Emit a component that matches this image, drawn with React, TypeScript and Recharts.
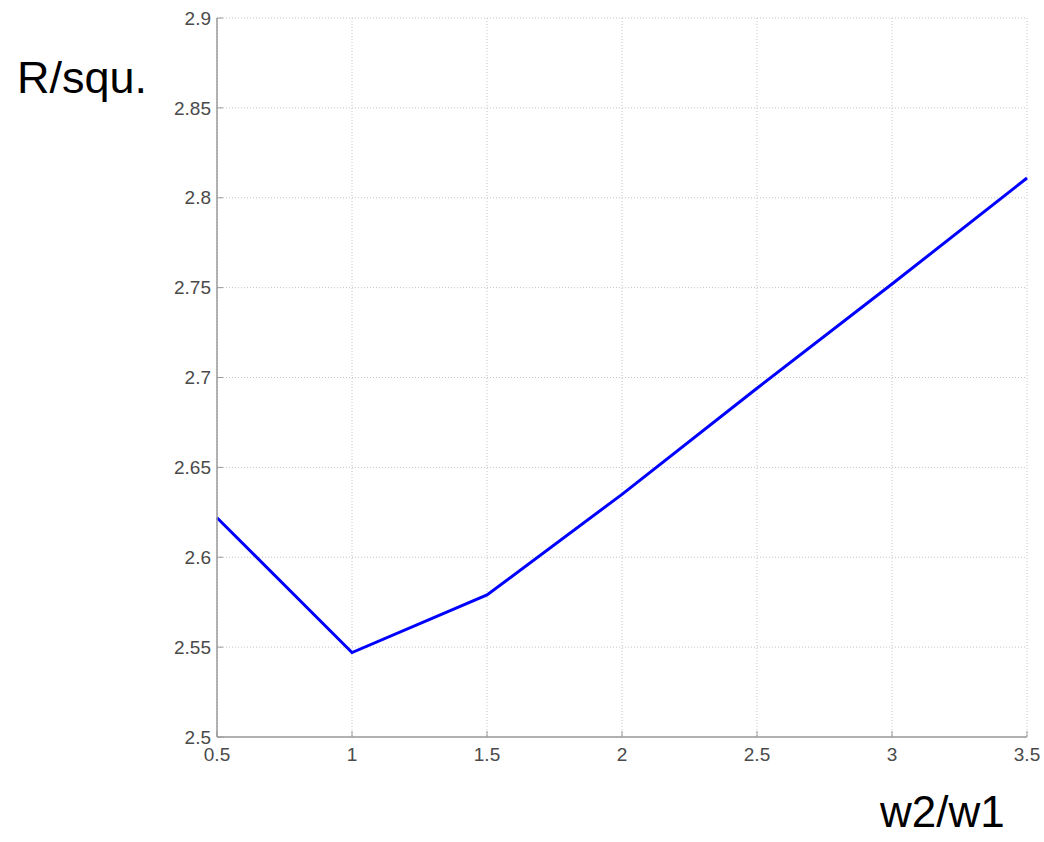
import { LineChart, Line, XAxis, YAxis, CartesianGrid } from "recharts"

const widthRatios = [0.5, 1, 1.5, 2, 2.5, 3, 3.5]
const sheetResistance = [2.622, 2.547, 2.579, 2.635, 2.694, 2.752, 2.811]

const xTicks = [0.5, 1, 1.5, 2, 2.5, 3, 3.5]
const yTicks = [2.5, 2.55, 2.6, 2.65, 2.7, 2.75, 2.8, 2.85, 2.9]

const data = widthRatios.map((r, i) => ({ ratio: r, value: sheetResistance[i] }))

const AXIS = "#9a9a9a"
const tickStyle = { fontSize: 19, fill: "#4a4a4a", fontFamily: "'Liberation Sans', Arial, sans-serif" }
const blank = () => ""

export default function App() {
  return (
    <div style={{ position: "absolute", left: 0, top: 0, width: 1044, height: 842, background: "#fff" }}>
      <LineChart
        width={1044}
        height={842}
        data={data}
        margin={{ top: 18, right: 17, bottom: 75, left: 0 }}
      >
        <CartesianGrid stroke="#c4c4c4" strokeDasharray="1 2" />
        <XAxis
          dataKey="ratio"
          type="number"
          domain={[0.5, 3.5]}
          ticks={xTicks}
          height={30}
          tickSize={-6}
          tickMargin={17}
          tick={tickStyle}
          stroke={AXIS}
          axisLine={{ stroke: AXIS, strokeWidth: 1.5 }}
          tickLine={{ stroke: AXIS, strokeWidth: 1 }}
        />
        <XAxis
          xAxisId="top"
          dataKey="ratio"
          type="number"
          orientation="top"
          domain={[0.5, 3.5]}
          ticks={xTicks}
          height={0}
          tickSize={-6}
          tickFormatter={blank}
          axisLine={{ stroke: AXIS, strokeWidth: 1.5 }}
          tickLine={{ stroke: AXIS, strokeWidth: 1 }}
        />
        <YAxis
          type="number"
          domain={[2.5, 2.9]}
          ticks={yTicks}
          width={217}
          tickSize={-6}
          tickMargin={12}
          tick={tickStyle}
          axisLine={{ stroke: AXIS, strokeWidth: 1.5 }}
          tickLine={{ stroke: AXIS, strokeWidth: 1 }}
        />
        <YAxis
          yAxisId="right"
          orientation="right"
          type="number"
          domain={[2.5, 2.9]}
          ticks={yTicks}
          width={0}
          tickSize={-6}
          tickFormatter={blank}
          axisLine={{ stroke: AXIS, strokeWidth: 1.5 }}
          tickLine={{ stroke: AXIS, strokeWidth: 1 }}
        />
        <Line
          dataKey="value"
          stroke="#0000ff"
          strokeWidth={3}
          dot={false}
          isAnimationActive={false}
        />
      </LineChart>
      <div
        style={{
          position: "absolute",
          left: 17,
          top: 55,
          fontSize: 45,
          lineHeight: 1,
          fontFamily: "'Liberation Sans', Arial, sans-serif",
          color: "#000",
        }}
      >
        R/squ.
      </div>
      <div
        style={{
          position: "absolute",
          left: 880,
          top: 790,
          fontSize: 44,
          lineHeight: 1,
          fontFamily: "'Liberation Sans', Arial, sans-serif",
          color: "#000",
        }}
      >
        w2/w1
      </div>
    </div>
  )
}
